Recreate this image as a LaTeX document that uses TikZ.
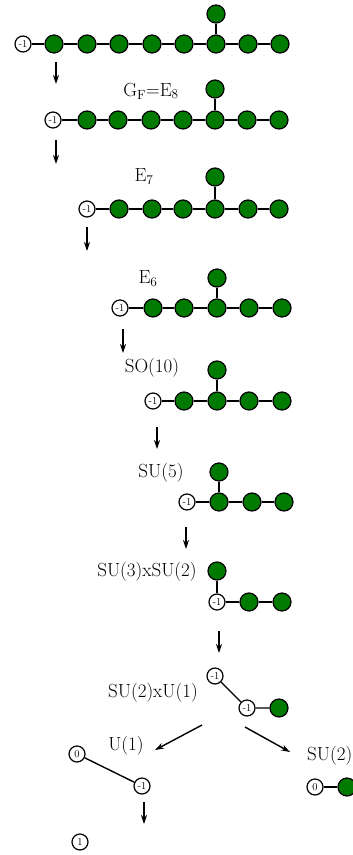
\documentclass[tikz,border=0pt]{standalone}
\usetikzlibrary{arrows.meta}
\definecolor{nodegreen}{RGB}{0,122,0}
\begin{document}
\begin{tikzpicture}[x=1pt,y=-1pt,
  wn/.style={circle,draw=black,fill=white,line width=1.2pt,minimum size=16pt,inner sep=0pt,font=\fontsize{10.5}{11}\selectfont},
  gn/.style={circle,draw=black,fill=nodegreen,line width=1.2pt,minimum size=18pt,inner sep=0pt},
  lnk/.style={line width=1.4pt},
  lbl/.style={font=\fontsize{19}{21}\selectfont,inner sep=0pt},
  flow/.style={line width=1.4pt,-{Stealth[length=9pt,width=6pt]}}]
\clip (0,0) rectangle (353,855);
\useasboundingbox (0,0) rectangle (353,855);
% Row 1
\node[wn] (a0) at (23,44) {-1};
\foreach \i/\x in {1/54,2/87,3/119,4/152,5/184,6/216,7/248,8/280}{\node[gn] (a\i) at (\x,44) {};}
\node[gn] (at) at (216,14) {};
\draw[lnk] (a0)--(a1) (a1)--(a2) (a2)--(a3) (a3)--(a4) (a4)--(a5) (a5)--(a6) (a6)--(a7) (a7)--(a8) (a6)--(at);
% Row 2
\node[lbl] (lb) at (151,91) {G\textsubscript{F}=E\textsubscript{8}};
\node[wn] (b0) at (53,120) {-1};
\foreach \i/\x in {1/87,2/118,3/151,4/183,5/215,6/247,7/279}{\node[gn] (b\i) at (\x,120) {};}
\node[gn] (bt) at (215,89) {};
\draw[lnk] (b0)--(b1) (b1)--(b2) (b2)--(b3) (b3)--(b4) (b4)--(b5) (b5)--(b6) (b6)--(b7) (b5)--(bt);
% Row 3
\node[lbl] (lc) at (144,177) {E\textsubscript{7}};
\node[wn] (c0) at (87,209) {-1};
\foreach \i/\x in {1/119,2/152,3/183,4/215,5/248,6/279}{\node[gn] (c\i) at (\x,209) {};}
\node[gn] (ct) at (215,177) {};
\draw[lnk] (c0)--(c1) (c1)--(c2) (c2)--(c3) (c3)--(c4) (c4)--(c5) (c5)--(c6) (c4)--(ct);
% Row 4
\node[lbl] (ld) at (148,279) {E\textsubscript{6}};
\node[wn] (d0) at (120,308) {-1};
\foreach \i/\x in {1/153,2/184,3/217,4/249,5/282}{\node[gn] (d\i) at (\x,308) {};}
\node[gn] (dt) at (217,278) {};
\draw[lnk] (d0)--(d1) (d1)--(d2) (d2)--(d3) (d3)--(d4) (d4)--(d5) (d3)--(dt);
% Row 5
\node[lbl] (le) at (152,368) {SO(10)};
\node[wn] (e0) at (153,401) {-1};
\foreach \i/\x in {1/184,2/217,3/249,4/282}{\node[gn] (e\i) at (\x,401) {};}
\node[gn] (et) at (217,370) {};
\draw[lnk] (e0)--(e1) (e1)--(e2) (e2)--(e3) (e3)--(e4) (e2)--(et);
% Row 6
\node[lbl] (lf) at (161,473) {SU(5)};
\node[wn] (f0) at (187,502) {-1};
\foreach \i/\x in {1/219,2/252,3/284}{\node[gn] (f\i) at (\x,502) {};}
\node[gn] (ft) at (219,472) {};
\draw[lnk] (f0)--(f1) (f1)--(f2) (f2)--(f3) (f1)--(ft);
% Row 7
\node[lbl] (lg) at (147,572) {SU(3)xSU(2)};
\node[wn] (g0) at (217,602) {-1};
\node[gn] (g1) at (249,602) {};
\node[gn] (g2) at (282,602) {};
\node[gn] (gt) at (217,571) {};
\draw[lnk] (g0)--(g1) (g1)--(g2) (g0)--(gt);
% Row 8
\node[lbl] (lh) at (153,693) {SU(2)xU(1)};
\node[wn] (h0) at (215,676) {-1};
\node[wn] (h1) at (247,708) {-1};
\node[gn] (h2) at (279,708) {};
\draw[lnk] (h0)--(h1) (h1)--(h2);
% U(1) branch
\node[lbl] (li) at (126,746) {U(1)};
\node[wn] (i0) at (77,754) {0};
\node[wn] (i1) at (142,786) {-1};
\draw[lnk] (i0)--(i1);
\node[wn] (k0) at (80,842) {1};
% SU(2) branch
\node[lbl,anchor=west] (lj) at (307,756) {SU(2)};
\node[wn] (j0) at (315,787) {0};
\node[gn] (j1) at (347,787) {};
\draw[lnk] (j0)--(j1);
% arrows
\foreach \n/\x/\ya/\yb in {1/56/62/84,2/56/140/164,3/87/227/251,4/123/329/353,5/157/427/449,6/186/527/549,7/219/631/653,8/144/802/824}{
  \coordinate (s\n) at (\x,\ya); \coordinate (t\n) at (\x,\yb);
  \draw[flow] (s\n)--(t\n);}
\coordinate (s9) at (202,725); \coordinate (t9) at (155,750);
\coordinate (s10) at (245,727); \coordinate (t10) at (290,752);
\draw[flow] (s9)--(t9);
\draw[flow] (s10)--(t10);
\end{tikzpicture}
\end{document}
